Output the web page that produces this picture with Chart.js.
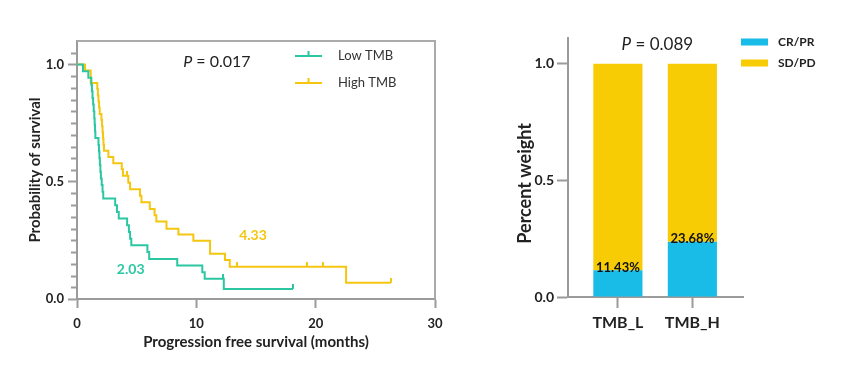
<!DOCTYPE html>
<html>
<head>
<meta charset="utf-8">
<script src="https://cdn.jsdelivr.net/npm/chart.js@4.4.0/dist/chart.umd.min.js"></script>
<style>
  html, body { margin: 0; padding: 0; background: #fff; }
  #wrap { position: relative; width: 851px; height: 365px; }
  #kmChart { position: absolute; left: 0; top: 0; }
  #barChart { position: absolute; left: 460px; top: 0; }
</style>
</head>
<body>
<div id="wrap">
  <canvas id="kmChart" width="460" height="365"></canvas>
  <canvas id="barChart" width="391" height="365"></canvas>
</div>
<script>
// ---- Kaplan-Meier data (months, survival probability) ----
const lowTimes = [0, 0.5, 0.95, 1.2, 1.25, 1.3, 1.35, 1.4, 1.45, 1.48, 1.51, 1.54, 1.8, 1.84, 1.88, 1.92, 1.96, 2.0, 2.07, 2.14, 2.2, 3.2, 3.35, 3.5, 4.2, 4.35, 4.45, 4.55, 5.9, 6.05, 8.4, 10.5, 10.7, 12.3, 18.1];
const lowSurv  = [1, 0.971, 0.943, 0.914, 0.886, 0.857, 0.829, 0.8, 0.771, 0.743, 0.714, 0.686, 0.657, 0.629, 0.6, 0.571, 0.543, 0.514, 0.486, 0.457, 0.429, 0.4, 0.371, 0.343, 0.314, 0.286, 0.257, 0.229, 0.2, 0.171, 0.143, 0.114, 0.086, 0.043, 0.043];
const lowCensorTimes = [12.2, 18.1];
const lowCensorSurv  = [0.086, 0.043];

const highTimes = [0, 0.67, 1.15, 1.7, 1.75, 1.8, 1.85, 1.9, 2.05, 2.1, 2.14, 2.18, 2.22, 2.26, 2.63, 3.04, 3.75, 3.85, 4.3, 4.45, 5.28, 5.4, 6.1, 6.5, 6.65, 7.5, 8.5, 9.75, 11.15, 12.4, 12.8, 22.55, 26.3];
const highSurv  = [1, 0.974, 0.921, 0.895, 0.868, 0.842, 0.816, 0.789, 0.763, 0.737, 0.711, 0.684, 0.658, 0.632, 0.605, 0.579, 0.553, 0.526, 0.496, 0.468, 0.44, 0.412, 0.384, 0.357, 0.33, 0.3, 0.275, 0.248, 0.193, 0.166, 0.138, 0.069, 0.069];
const highCensorTimes = [4.2, 13.4, 19.3, 20.6, 26.3];
const highCensorSurv  = [0.526, 0.138, 0.138, 0.138, 0.069];

const kmXTicks = [0, 10, 20, 30];
const kmYTicks = [0, 0.5, 1.0];
const kmLegend = ['Low TMB', 'High TMB'];
const kmPText = '0.017';
const medianLabels = ['2.03', '4.33'];

// ---- Response bar data ----
const barCats = ['TMB_L', 'TMB_H'];
const crprVals = [0.1143, 0.2368];
const sdpdVals = [0.8857, 0.7632];
const barLabels = ['11.43%', '23.68%'];
const barYTicks = [0, 0.5, 1.0];
const barLegend = ['CR/PR', 'SD/PD'];
const barPText = '0.089';

const teal = '#2bc7a3';
const gold = '#f4c610';
const cyan = '#19bce6';
const barGold = '#f7cc05';
const axisGray = '#9b9b9b';
const FONT = 'Lato';

function censorMark(color) {
    const c = document.createElement('canvas');
    c.width = 2; c.height = 10;
    const g = c.getContext('2d');
    g.fillStyle = color;
    g.fillRect(0, 0, 2, 5);
    return c;
}

function pts(xs, ys) {
    return xs.map((t, i) => ({ x: t, y: ys[i] }));
}

function drawP(ctx, value, x, y, size, align) {
    ctx.font = 'italic ' + size + 'px ' + FONT;
    const wP = ctx.measureText('P').width;
    ctx.font = size + 'px ' + FONT;
    const rest = ' = ' + value;
    const wR = ctx.measureText(rest).width;
    let left = align === 'center' ? x - (wP + wR) / 2 : x;
    ctx.fillStyle = '#222';
    ctx.textBaseline = 'middle';
    ctx.textAlign = 'left';
    ctx.font = 'italic ' + size + 'px ' + FONT;
    ctx.fillText('P', left, y);
    ctx.font = size + 'px ' + FONT;
    ctx.fillText(rest, left + wP, y);
}

// decorations for the survival plot: frame, minor ticks, legend, labels
const kmDecor = {
    id: 'kmDecor',
    afterDraw(chart) {
        const { ctx, chartArea: a, scales: { x, y } } = chart;
        ctx.save();
        ctx.strokeStyle = '#aaa';
        ctx.lineWidth = 2;
        ctx.beginPath();
        ctx.moveTo(a.left, a.top);
        ctx.lineTo(a.right, a.top);
        ctx.lineTo(a.right, a.bottom);
        ctx.stroke();

        // minor y ticks every 0.05
        ctx.strokeStyle = axisGray;
        for (let i = 1; i <= 21; i++) {
            if (i % 10 === 0) continue;
            const py = Math.round(y.getPixelForValue(i * 0.05)) + 0.5;
            ctx.beginPath();
            ctx.moveTo(a.left - 6, py);
            ctx.lineTo(a.left, py);
            ctx.stroke();
        }

        // legend
        const colors = [teal, gold];
        ctx.lineWidth = 2;
        kmLegend.forEach((name, i) => {
            const ly = 56 + i * 27;
            ctx.strokeStyle = colors[i];
            ctx.beginPath();
            ctx.moveTo(295, ly); ctx.lineTo(322, ly);
            ctx.moveTo(308.5, ly); ctx.lineTo(308.5, ly - 5);
            ctx.stroke();
            ctx.fillStyle = '#333';
            ctx.font = '13px ' + FONT;
            ctx.textAlign = 'left';
            ctx.textBaseline = 'middle';
            ctx.fillText(name, 338, ly);
        });

        drawP(ctx, kmPText, x.getPixelForValue(8.9), y.getPixelForValue(1.01), 16, 'left');

        ctx.font = 'bold 14px ' + FONT;
        ctx.textAlign = 'center';
        ctx.textBaseline = 'middle';
        ctx.fillStyle = teal;
        ctx.fillText(medianLabels[0], x.getPixelForValue(4.5), y.getPixelForValue(0.124));
        ctx.fillStyle = gold;
        ctx.fillText(medianLabels[1], x.getPixelForValue(14.75), y.getPixelForValue(0.269));
        ctx.restore();
    }
};

new Chart(document.getElementById('kmChart'), {
    type: 'line',
    data: {
        datasets: [
            { data: pts(lowTimes, lowSurv), borderColor: teal, borderWidth: 2, stepped: true, pointRadius: 0, fill: false },
            { data: pts(highTimes, highSurv), borderColor: gold, borderWidth: 2, stepped: true, pointRadius: 0, fill: false },
            { data: pts(lowCensorTimes, lowCensorSurv), showLine: false, pointStyle: censorMark(teal), pointRadius: 5 },
            { data: pts(highCensorTimes, highCensorSurv), showLine: false, pointStyle: censorMark(gold), pointRadius: 5 }
        ]
    },
    options: {
        responsive: false,
        animation: false,
        layout: { padding: { left: 0, top: 41, right: 25, bottom: 0 } },
        plugins: { legend: { display: false }, tooltip: { enabled: false } },
        scales: {
            x: {
                type: 'linear', min: 0, max: 30,
                afterBuildTicks: s => { s.ticks = kmXTicks.map(v => ({ value: v })); },
                afterFit: s => { s.height = 66; },
                grid: { drawOnChartArea: false, tickLength: 9, tickWidth: 2, tickColor: axisGray },
                border: { color: axisGray, width: 2 },
                ticks: { color: '#222', font: { family: FONT, size: 13, weight: 'bold' }, padding: 8, maxRotation: 0 },
                title: { display: true, text: 'Progression free survival (months)', color: '#222', font: { family: FONT, size: 15, weight: 'bold' }, padding: { bottom: 14 } }
            },
            y: {
                type: 'linear', min: 0, max: 1.1,
                afterBuildTicks: s => { s.ticks = kmYTicks.map(v => ({ value: v })); },
                afterFit: s => { s.width = 77; },
                grid: { drawOnChartArea: false, tickLength: 9, tickWidth: 2, tickColor: axisGray },
                border: { color: axisGray, width: 2 },
                ticks: { color: '#222', font: { family: FONT, size: 13, weight: 'bold' }, padding: 4, callback: v => v.toFixed(1) },
                title: { display: true, text: 'Probability of survival', color: '#222', font: { family: FONT, size: 15, weight: 'bold' }, padding: { top: 26 } }
            }
        }
    },
    plugins: [kmDecor]
});

// decorations for the bar plot: y title, legend, P value, percent labels
const barDecor = {
    id: 'barDecor',
    afterDraw(chart) {
        const { ctx, scales: { x, y } } = chart;
        ctx.save();
        // y title centred on the 0..1 range
        ctx.translate(65, (y.getPixelForValue(0) + y.getPixelForValue(1)) / 2 + 3);
        ctx.rotate(-Math.PI / 2);
        ctx.fillStyle = '#222';
        ctx.font = 'bold 18px ' + FONT;
        ctx.textAlign = 'center';
        ctx.textBaseline = 'middle';
        ctx.fillText('Percent weight', 0, 0);
        ctx.restore();

        ctx.save();
        const colors = [cyan, barGold];
        barLegend.forEach((name, i) => {
            const ly = 42 + i * 21;
            ctx.fillStyle = colors[i];
            ctx.fillRect(281, ly - 3.5, 27, 7);
            ctx.fillStyle = '#222';
            ctx.font = 'bold 12px ' + FONT;
            ctx.textAlign = 'left';
            ctx.textBaseline = 'middle';
            ctx.fillText(name, 318, ly);
        });

        drawP(ctx, barPText, x.getPixelForValue(1.53), y.getPixelForValue(1.082), 17, 'center');

        ctx.fillStyle = '#111';
        ctx.font = 'bold 13px ' + FONT;
        ctx.textAlign = 'center';
        ctx.textBaseline = 'bottom';
        barLabels.forEach((lab, i) => {
            ctx.fillText(lab, x.getPixelForValue(i + 1), y.getPixelForValue(crprVals[i]) + 4);
        });
        ctx.restore();
    }
};

new Chart(document.getElementById('barChart'), {
    type: 'bar',
    data: {
        datasets: [
            { label: barLegend[0], data: crprVals.map((v, i) => ({ x: i + 1, y: v })), backgroundColor: cyan, categoryPercentage: 1, barPercentage: 0.66 },
            { label: barLegend[1], data: sdpdVals.map((v, i) => ({ x: i + 1, y: v })), backgroundColor: barGold, categoryPercentage: 1, barPercentage: 0.66 }
        ]
    },
    options: {
        responsive: false,
        animation: false,
        layout: { padding: { left: 0, top: 38, right: 108, bottom: 0 } },
        plugins: { legend: { display: false }, tooltip: { enabled: false } },
        scales: {
            x: {
                type: 'linear', min: 0.33, max: 2.68, stacked: true, offset: false,
                afterBuildTicks: s => { s.ticks = barCats.map((c, i) => ({ value: i + 1 })); },
                afterFit: s => { s.height = 68; },
                grid: { offset: false, drawOnChartArea: false, tickLength: 11, tickWidth: 2, tickColor: axisGray },
                border: { color: axisGray, width: 2 },
                ticks: { color: '#222', font: { family: FONT, size: 16, weight: 'bold' }, padding: 5, maxRotation: 0, callback: v => barCats[v - 1] }
            },
            y: {
                type: 'linear', min: 0, max: 1.11, stacked: true,
                afterBuildTicks: s => { s.ticks = barYTicks.map(v => ({ value: v })); },
                afterFit: s => { s.width = 108; },
                grid: { drawOnChartArea: false, tickLength: 11, tickWidth: 2, tickColor: axisGray },
                border: { color: axisGray, width: 2 },
                ticks: { color: '#222', font: { family: FONT, size: 14, weight: 'bold' }, padding: 3, callback: v => v.toFixed(1) }
            }
        }
    },
    plugins: [barDecor]
});
</script>
</body>
</html>
